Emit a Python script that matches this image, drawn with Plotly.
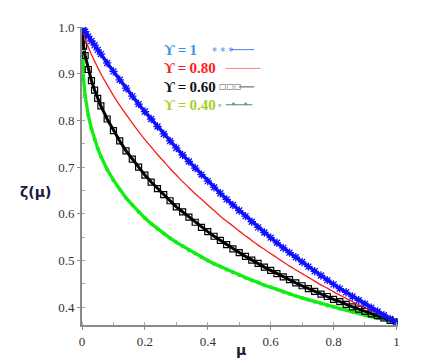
import plotly.graph_objects as go

# abscisse mu (grille plus fine pres de 0)
mu = [0, 0.002, 0.005, 0.01, 0.02, 0.03, 0.04, 0.05, 0.06, 0.08,
      0.10, 0.12, 0.14, 0.16, 0.18, 0.20, 0.22, 0.24, 0.26, 0.28,
      0.30, 0.32, 0.34, 0.36, 0.38, 0.40, 0.42, 0.44, 0.46, 0.48,
      0.50, 0.52, 0.54, 0.56, 0.58, 0.60, 0.62, 0.64, 0.66, 0.68,
      0.70, 0.72, 0.74, 0.76, 0.78, 0.80, 0.82, 0.84, 0.86, 0.88,
      0.90, 0.92, 0.94, 0.96, 0.98, 1.00]

zeta_g100 = [1.000, 0.998, 0.995, 0.990, 0.980, 0.970, 0.961, 0.951, 0.942, 0.923,
             0.905, 0.887, 0.869, 0.852, 0.835, 0.819, 0.803, 0.787, 0.771, 0.756,
             0.741, 0.726, 0.712, 0.698, 0.684, 0.670, 0.657, 0.644, 0.631, 0.619,
             0.607, 0.595, 0.583, 0.571, 0.560, 0.549, 0.538, 0.527, 0.517, 0.507,
             0.497, 0.487, 0.477, 0.468, 0.458, 0.449, 0.440, 0.432, 0.423, 0.415,
             0.407, 0.399, 0.391, 0.383, 0.375, 0.368]

zeta_g080 = [1.000, 0.993, 0.986, 0.975, 0.957, 0.941, 0.927, 0.913, 0.900, 0.876,
             0.853, 0.832, 0.813, 0.794, 0.776, 0.759, 0.743, 0.727, 0.712, 0.697,
             0.683, 0.669, 0.656, 0.643, 0.631, 0.619, 0.607, 0.595, 0.584, 0.574,
             0.563, 0.553, 0.543, 0.533, 0.524, 0.515, 0.506, 0.497, 0.488, 0.480,
             0.472, 0.464, 0.456, 0.448, 0.441, 0.433, 0.426, 0.419, 0.412, 0.405,
             0.399, 0.392, 0.386, 0.380, 0.374, 0.368]

zeta_g060 = [1.000, 0.976, 0.959, 0.939, 0.909, 0.885, 0.865, 0.847, 0.831, 0.803,
             0.778, 0.756, 0.735, 0.717, 0.700, 0.683, 0.668, 0.654, 0.641, 0.628,
             0.615, 0.604, 0.593, 0.582, 0.571, 0.562, 0.552, 0.543, 0.534, 0.525,
             0.517, 0.509, 0.501, 0.494, 0.486, 0.479, 0.472, 0.465, 0.459, 0.452,
             0.446, 0.440, 0.434, 0.428, 0.423, 0.417, 0.412, 0.406, 0.401, 0.396,
             0.391, 0.386, 0.382, 0.377, 0.372, 0.368]

zeta_g040 = [1.000, 0.920, 0.887, 0.853, 0.811, 0.782, 0.759, 0.740, 0.723, 0.695,
             0.672, 0.652, 0.634, 0.619, 0.604, 0.591, 0.579, 0.568, 0.558, 0.548,
             0.539, 0.531, 0.522, 0.515, 0.507, 0.500, 0.493, 0.487, 0.481, 0.475,
             0.469, 0.463, 0.458, 0.453, 0.447, 0.443, 0.438, 0.433, 0.429, 0.424,
             0.420, 0.416, 0.412, 0.408, 0.404, 0.401, 0.397, 0.394, 0.390, 0.387,
             0.383, 0.380, 0.377, 0.374, 0.371, 0.368]

legend_labels = ["ϒ\u2009=\u20091", "ϒ\u2009=\u20090.80", "ϒ\u2009=\u20090.60", "ϒ\u2009=\u20090.40"]

fig = go.Figure()

# 1) courbes (ordre de trace : vert, noir, rouge, bleu)
fig.add_trace(go.Scatter(
    x=mu, y=zeta_g040, mode='lines+markers',
    line=dict(color='#11ee11', width=3.3),
    marker=dict(symbol='circle', size=4, color='#11ee11'),
    showlegend=False
))
fig.add_trace(go.Scatter(
    x=mu, y=zeta_g060, mode='lines+markers',
    line=dict(color='black', width=3),
    marker=dict(symbol='square-open', size=6, color='black', line=dict(width=1.2)),
    showlegend=False
))
fig.add_trace(go.Scatter(
    x=mu, y=zeta_g080, mode='lines',
    line=dict(color='#ff1a1a', width=1.3, shape='spline'),
    showlegend=False
))
fig.add_trace(go.Scatter(
    x=mu, y=zeta_g100, mode='lines+markers',
    line=dict(color='#1010ff', width=3.5),
    marker=dict(symbol='asterisk-open', size=7, color='#1010ff', line=dict(width=1.3, color='#1010ff')),
    showlegend=False
))

# 2) legende maison : texte a gauche, echantillon a droite
leg_y = [0.924, 0.861, 0.799, 0.739]
leg_colors = ['#3a94e0', '#ff2020', '#111111', '#a6cf2a']
for lab, yy, col in zip(legend_labels, leg_y, leg_colors):
    fig.add_annotation(
        xref='paper', yref='paper', x=0.253, y=yy, xanchor='left', yanchor='middle',
        text='<b>%s</b>' % lab, showarrow=False,
        font=dict(family='Liberation Serif', size=15, color=col)
    )

# echantillons
fig.add_annotation(xref='paper', yref='paper', x=0.406, y=0.918, xanchor='left', yanchor='middle',
                   text='* * *', showarrow=False,
                   font=dict(family='DejaVu Sans', size=10, color='#4a7cf0'))
fig.add_shape(type='line', xref='paper', yref='paper', x0=0.471, x1=0.545, y0=0.924, y1=0.924,
              line=dict(color='#4a7cf0', width=1))
fig.add_shape(type='line', xref='paper', yref='paper', x0=0.455, x1=0.565, y0=0.861, y1=0.861,
              line=dict(color='#ff8080', width=1))
fig.add_annotation(xref='paper', yref='paper', x=0.426, y=0.799, xanchor='left', yanchor='middle',
                   text='□□□', showarrow=False,
                   font=dict(family='DejaVu Sans', size=8, color='#555555'))
fig.add_shape(type='line', xref='paper', yref='paper', x0=0.497, x1=0.545, y0=0.799, y1=0.799,
              line=dict(color='#555555', width=1))
fig.add_annotation(xref='paper', yref='paper', x=0.422, y=0.739, xanchor='left', yanchor='middle',
                   text='∘', showarrow=False,
                   font=dict(family='DejaVu Sans', size=9, color='#4e8a76'))
fig.add_shape(type='line', xref='paper', yref='paper', x0=0.455, x1=0.539, y0=0.739, y1=0.739,
              line=dict(color='#4e8a76', width=1))
fig.add_annotation(xref='paper', yref='paper', x=0.497, y=0.739, xanchor='center', yanchor='middle',
                   text='•   •', showarrow=False,
                   font=dict(family='DejaVu Sans', size=8, color='#4e8a76'))

# 3) titres d'axes
fig.add_annotation(xref='paper', yref='paper', x=-0.146, y=0.446, xanchor='center', yanchor='middle',
                   text='<b>ζ(μ)</b>', showarrow=False,
                   font=dict(family='DejaVu Sans', size=14, color='#1a1a40'))
fig.add_annotation(xref='paper', yref='paper', x=0.503, y=-0.083, xanchor='center', yanchor='middle',
                   text='<b>μ</b>', showarrow=False,
                   font=dict(family='DejaVu Sans', size=14, color='#1a1a40'))

# la page ajoute 8 px de marge autour du graphe
fig.update_layout(
    width=432, height=355,
    margin=dict(l=74, r=42, t=14, b=38),
    paper_bgcolor='white',
    plot_bgcolor='white',
    font=dict(family='Liberation Serif', size=13, color='#333333'),
    xaxis=dict(
        range=[0, 1.005], showgrid=False, zeroline=False,
        showline=True, linecolor='#8a8a8a', linewidth=2,
        tickmode='linear', tick0=0, dtick=0.2,
        ticks='outside', ticklen=3, tickcolor='#8a8a8a',
        minor=dict(dtick=0.1, ticks='inside', ticklen=3, tickcolor='#aaaaaa'),
    ),
    yaxis=dict(
        range=[0.362, 1.0], showgrid=False, zeroline=False,
        showline=True, linecolor='#8a8a8a', linewidth=2,
        tickmode='linear', tick0=0.4, dtick=0.1, tickformat='.1f',
        ticks='outside', ticklen=3, tickcolor='#8a8a8a',
        minor=dict(dtick=0.05, ticks='inside', ticklen=3, tickcolor='#aaaaaa'),
    ),
)

fig.write_html("out.html")
